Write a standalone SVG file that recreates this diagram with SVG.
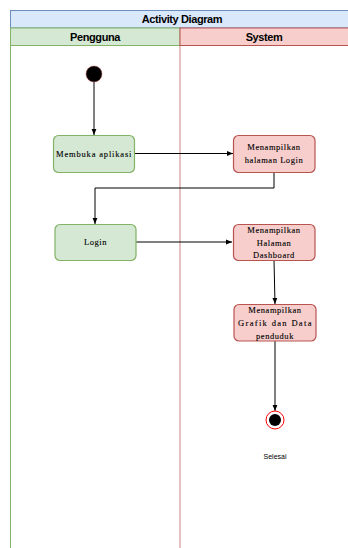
<svg xmlns="http://www.w3.org/2000/svg" width="348" height="548" viewBox="0 0 348 548">
<defs>
<style>
.title{font-family:"Liberation Sans",Arial,sans-serif;font-weight:bold;font-size:11px;fill:#000;letter-spacing:-0.4px}
.lbl{font-family:"Liberation Serif","DejaVu Serif",serif;font-size:8.5px;fill:#000;stroke:#000;stroke-width:0.12;letter-spacing:0.55px}
.gbox{fill:#d5e8d4;stroke:#82b366;stroke-width:1.2}
.rbox{fill:#f8cecc;stroke:#b85450;stroke-width:1.2}
.edge{fill:none;stroke:#000;stroke-width:1;marker-end:url(#arr)}
.small{font-family:"Liberation Sans",Arial,sans-serif;font-size:7px;fill:#000}
</style>
<marker id="arr" viewBox="0 0 10 10" refX="10" refY="5" markerWidth="6" markerHeight="6" orient="auto" markerUnits="userSpaceOnUse">
<path d="M0,1 L10,5 L0,9 Z" fill="#000"/>
</marker>
</defs>
<rect width="348" height="548" fill="#fff"/>
<g id="pool">
<rect x="10.5" y="10.5" width="345" height="17.5" fill="#dae8fc" stroke="#6c8ebf" stroke-width="1"/>
<text class="title" x="182" y="22.5" text-anchor="middle">Activity Diagram</text>
</g>
<g id="lane-pengguna">
<rect x="10.5" y="28" width="169.5" height="17.5" fill="#d5e8d4" stroke="#82b366" stroke-width="1"/>
<line x1="10.5" y1="45.5" x2="10.5" y2="548" stroke="#82b366" stroke-width="1"/>
<text class="title" x="95" y="40.5" text-anchor="middle">Pengguna</text>
</g>
<g id="lane-system">
<rect x="180" y="28" width="175" height="17.5" fill="#f8cecc" stroke="#b85450" stroke-width="1"/>
<line x1="180" y1="45.5" x2="180" y2="548" stroke="#b85450" stroke-opacity="0.6" stroke-width="1.2"/>
<text class="title" x="264" y="40.5" text-anchor="middle">System</text>
</g>
<g id="connectors">
<path class="edge" d="M94,82 L94,135"/>
<path class="edge" d="M134,153.5 L233,153.5"/>
<path class="edge" d="M274,172 L274,188 L95,188 L95,224"/>
<path class="edge" d="M136,242 L232,242"/>
<path class="edge" d="M274,260 L275,304"/>
<path class="edge" d="M275,341 L275,411"/>
</g>
<g id="start">
<circle cx="94" cy="74" r="8" fill="#000" stroke="#b85450" stroke-width="0.5"/>
</g>
<g id="membuka">
<rect class="gbox" x="53.5" y="135.5" width="81" height="37" rx="5"/>
<text class="lbl" x="94" y="156.5" text-anchor="middle" textLength="76" lengthAdjust="spacing">Membuka aplikasi</text>
</g>
<g id="halaman-login">
<rect class="rbox" x="233.5" y="135.5" width="81.5" height="37" rx="5"/>
<text class="lbl" x="274" y="150" text-anchor="middle">Menampilkan</text>
<text class="lbl" x="274" y="162.5" text-anchor="middle">halaman Login</text>
</g>
<g id="login">
<rect class="gbox" x="55" y="224.5" width="81" height="36" rx="5"/>
<text class="lbl" x="95.5" y="245" text-anchor="middle">Login</text>
</g>
<g id="dashboard">
<rect class="rbox" x="233.5" y="224.5" width="81.5" height="36" rx="5"/>
<text class="lbl" x="274" y="233" text-anchor="middle">Menampilkan</text>
<text class="lbl" x="274" y="245.5" text-anchor="middle">Halaman</text>
<text class="lbl" x="274" y="258" text-anchor="middle">Dashboard</text>
</g>
<g id="grafik">
<rect class="rbox" x="234" y="304.5" width="82" height="36.5" rx="5"/>
<text class="lbl" x="275" y="313" text-anchor="middle">Menampilkan</text>
<text class="lbl" x="275" y="326" text-anchor="middle" textLength="74" lengthAdjust="spacing">Grafik dan Data</text>
<text class="lbl" x="275" y="339" text-anchor="middle">penduduk</text>
</g>
<g id="end">
<circle cx="275" cy="420" r="9" fill="#fff" stroke="#ff0000" stroke-width="1"/>
<circle cx="275" cy="420" r="6" fill="#000"/>
<text class="small" x="275" y="459" text-anchor="middle">Selesai</text>
</g>
</svg>
